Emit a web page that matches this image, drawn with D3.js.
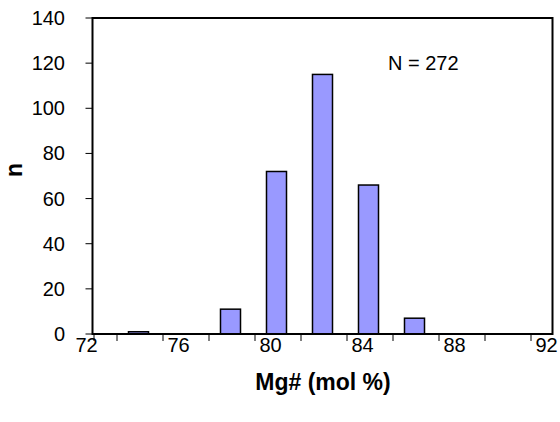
<!DOCTYPE html>
<html>
<head>
<meta charset="utf-8">
<script src="https://cdn.jsdelivr.net/npm/d3@7"></script>
<style>
  html, body { margin: 0; padding: 0; background: #fff; }
  svg { display: block; }
  text { font-family: "Liberation Sans", Arial, sans-serif; fill: #000; }
</style>
</head>
<body>
<svg id="chart" width="560" height="422"></svg>
<script>
// Data
const binCenters = [74, 76, 78, 80, 82, 84, 86, 88, 90];
const counts     = [1, 0, 11, 72, 115, 66, 7, 0, 0];
const yTicks = [0, 20, 40, 60, 80, 100, 120, 140];
const xLabelTicks = [72, 76, 80, 84, 88, 92];
const xMinorTicks = [72, 73, 75, 77, 79, 81, 83, 85, 87, 89, 91];
const annotation = "N = 272";
const xTitle = "Mg# (mol %)";
const yTitle = "n";

const svg = d3.select("#chart");
const plotL = 92.5, plotR = 552.5, plotT = 18, plotB = 334;

const x = d3.scaleLinear().domain([72, 92]).range([plotL, plotR]);
const y = d3.scaleLinear().domain([0, 140]).range([plotB, plotT]);
const barW = x(72.87) - x(72);

// bars
svg.append("g").selectAll("rect")
  .data(binCenters.map((c, i) => ({ c, v: counts[i] })).filter(d => d.v > 0))
  .join("rect")
  .attr("x", d => x(d.c) - barW / 2)
  .attr("y", d => y(d.v))
  .attr("width", barW)
  .attr("height", d => y(0) - y(d.v))
  .attr("fill", "#9999FF")
  .attr("stroke", "#000")
  .attr("stroke-width", 1.5);

// plot frame
svg.append("rect")
  .attr("x", plotL).attr("y", plotT)
  .attr("width", plotR - plotL).attr("height", plotB - plotT)
  .attr("fill", "none").attr("stroke", "#000").attr("stroke-width", 2);

// y axis ticks + labels
const yg = svg.append("g");
yg.selectAll("line").data(yTicks).join("line")
  .attr("x1", plotL - 7).attr("x2", plotL)
  .attr("y1", d => y(d)).attr("y2", d => y(d))
  .attr("stroke", "#000").attr("stroke-width", 1);
yg.selectAll("text").data(yTicks).join("text")
  .attr("x", 65).attr("y", d => y(d))
  .attr("dy", "0.35em")
  .attr("text-anchor", "end")
  .attr("font-size", 20)
  .text(d => d);

// x axis ticks + labels
const xg = svg.append("g");
xg.selectAll("line").data(xMinorTicks).join("line")
  .attr("x1", d => x(d) + 1.5).attr("x2", d => x(d) + 1.5)
  .attr("y1", plotB).attr("y2", plotB + 7)
  .attr("stroke", "#000").attr("stroke-width", 1);
xg.selectAll("text").data(xLabelTicks).join("text")
  .attr("x", d => x(d) - 6).attr("y", 352)
  .attr("text-anchor", "middle")
  .attr("font-size", 20)
  .text(d => d);

// annotation
svg.append("text")
  .attr("x", 388).attr("y", 70)
  .attr("font-size", 20)
  .text(annotation);

// axis titles
svg.append("text")
  .attr("x", 323).attr("y", 390)
  .attr("text-anchor", "middle")
  .attr("font-size", 23)
  .attr("font-weight", "bold")
  .text(xTitle);

svg.append("text")
  .attr("transform", "translate(22,170) rotate(-90)")
  .attr("text-anchor", "middle")
  .attr("font-size", 23)
  .attr("font-weight", "bold")
  .text(yTitle);
</script>
</body>
</html>
